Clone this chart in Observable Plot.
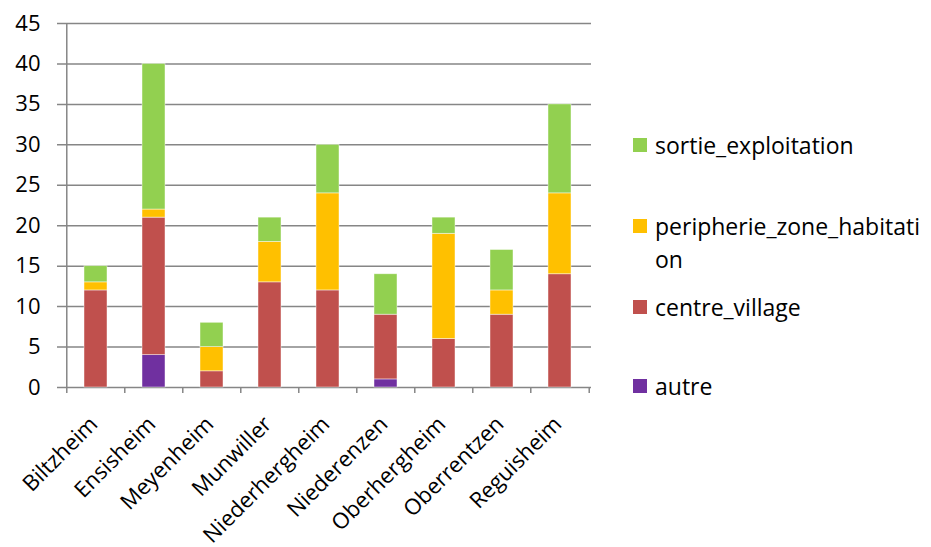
<!DOCTYPE html>
<html>
<head>
<meta charset="utf-8">
<script src="https://cdn.jsdelivr.net/npm/d3@7"></script>
<script src="https://cdn.jsdelivr.net/npm/@observablehq/plot@0.6"></script>
<style>
  html, body { margin: 0; padding: 0; background: #fff; }
  #wrap { position: relative; width: 931px; height: 547px; font-family: "Open Sans", sans-serif; overflow: hidden; }
  #legend { position: absolute; left: 633px; top: 0; font-size: 23px; color: #000; }
  .item { position: absolute; left: 0; white-space: nowrap; }
  .sw { position: absolute; left: 0; width: 14px; height: 14px; }
  .lab { position: absolute; left: 22px; line-height: 33px; }
</style>
</head>
<body>
<div id="wrap"><div id="chart"></div><div id="legend"></div></div>
<script>
const categories = ["Biltzheim","Ensisheim","Meyenheim","Munwiller","Niederhergheim","Niederenzen","Oberhergheim","Oberrentzen","Reguisheim"];
const seriesNames = ["autre","centre_village","peripherie_zone_habitation","sortie_exploitation"];
const autre       = [0, 4, 0, 0, 0, 1, 0, 0, 0];
const centre      = [12, 17, 2, 13, 12, 8, 6, 9, 14];
const peripherie  = [1, 1, 3, 5, 12, 0, 13, 3, 10];
const sortie      = [2, 18, 3, 3, 6, 5, 2, 5, 11];
const colors = ["#7030A0", "#C0504D", "#FFC000", "#92D050"];
const yTicks = [0, 5, 10, 15, 20, 25, 30, 35, 40, 45];

const seriesValues = [autre, centre, peripherie, sortie];
const data = [];
seriesNames.forEach((s, si) => categories.forEach((c, ci) => data.push({cat: c, series: s, value: seriesValues[si][ci]})));

const W = 931, H = 547, mL = 65, mR = 340, mT = 23, mB = 160;
const step = (W - mL - mR) / categories.length;
const grid = "#868686";

const chart = Plot.plot({
  width: W, height: H,
  marginLeft: mL, marginRight: mR, marginTop: mT, marginBottom: mB,
  style: {fontFamily: "'Open Sans', sans-serif", color: "#000", background: "#fff", overflow: "visible"},
  x: {type: "band", domain: categories, paddingInner: 0.6, paddingOuter: 0.3, label: null},
  y: {domain: [0, 45], label: null},
  color: {domain: seriesNames, range: colors},
  marks: [
    Plot.ruleY(yTicks, {y: d => d, stroke: grid, strokeWidth: 1.5, insetLeft: -8}),
    Plot.ruleX([categories[0]], {x: d => d, y1: 0, y2: 45, dx: -step / 2, stroke: grid, strokeWidth: 1.5}),
    Plot.ruleX(categories, {x: d => d, y1: 0, y2: 0, dx: -step / 2, insetBottom: -6, stroke: grid, strokeWidth: 1.5}),
    Plot.ruleX([categories[categories.length - 1]], {x: d => d, y1: 0, y2: 0, dx: step / 2, insetBottom: -6, stroke: grid, strokeWidth: 1.5}),
    Plot.barY(data, Plot.stackY({order: seriesNames}, {x: "cat", y: "value", fill: "series", stroke: "#fff", strokeWidth: 0.75, strokeOpacity: 0.6})),
    Plot.axisY({ticks: yTicks, tickSize: 0, tickPadding: 25, fontSize: 22, label: null}),
    Plot.axisX({tickSize: 0, tickRotate: -45, tickPadding: 12, dx: -2, dy: 21, fontSize: 22, label: null})
  ]
});
document.getElementById("chart").appendChild(chart);

// legend (top to bottom: reverse series order)
const legendRows = [
  {name: "sortie_exploitation", lines: ["sortie_exploitation"], color: colors[3], y: 145},
  {name: "peripherie_zone_habitation", lines: ["peripherie_zone_habitati", "on"], color: colors[2], y: 226},
  {name: "centre_village", lines: ["centre_village"], color: colors[1], y: 307},
  {name: "autre", lines: ["autre"], color: colors[0], y: 386}
];
const leg = document.getElementById("legend");
legendRows.forEach(r => {
  const it = document.createElement("div");
  it.className = "item";
  it.style.top = (r.y - 16.5) + "px";
  const sw = document.createElement("div");
  sw.className = "sw"; sw.style.background = r.color; sw.style.top = "9.5px";
  const lab = document.createElement("div");
  lab.className = "lab";
  lab.innerHTML = r.lines.join("<br>");
  it.appendChild(sw); it.appendChild(lab);
  leg.appendChild(it);
});
</script>
</body>
</html>
